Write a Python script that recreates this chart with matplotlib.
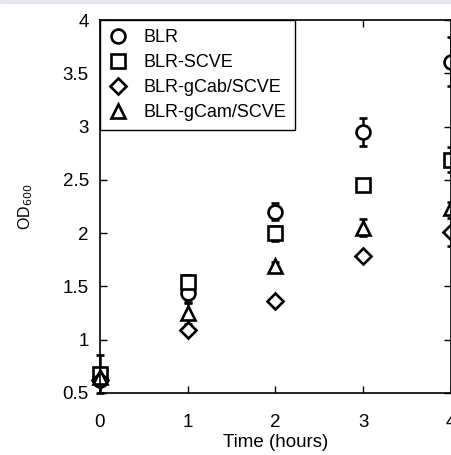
import matplotlib
matplotlib.use("Agg")
import matplotlib.pyplot as plt
from matplotlib.patches import Rectangle

plt.rcParams['font.family'] = ['Liberation Sans', 'DejaVu Sans']

time = [0, 1, 2, 3, 4]
labels = ['BLR', 'BLR-SCVE', 'BLR-gCab/SCVE', 'BLR-gCam/SCVE']
markers = ['o', 's', 'D', '^']
sizes = [10, 9.5, 8.5, 9.5]

blr = [0.62, 1.44, 2.20, 2.95, 3.61]
blr_err = [0.04, 0.10, 0.08, 0.13, 0.23]
scve = [0.68, 1.54, 2.00, 2.45, 2.69]
scve_err = [0.18, 0.07, 0.07, 0.05, 0.12]
gcab = [0.62, 1.09, 1.36, 1.79, 2.01]
gcab_err = [0.03, 0.03, 0.02, 0.02, 0.13]
gcam = [0.65, 1.25, 1.69, 2.05, 2.24]
gcam_err = [0.05, 0.10, 0.04, 0.08, 0.05]

series = [(blr, blr_err), (scve, scve_err), (gcab, gcab_err), (gcam, gcam_err)]

fig = plt.figure(figsize=(4.52, 4.55), dpi=100)
ax = fig.add_axes([0.2212, 0.1363, 0.7766, 0.8197])

for (vals, errs), lab, m, ms in zip(series, labels, markers, sizes):
    ax.errorbar(time, vals, yerr=errs, fmt=m, mfc='white', mec='black', ecolor='black',
                ms=ms, mew=1.9, elinewidth=1.8, capsize=3, capthick=1.8, label=lab,
                clip_on=False)

ax.set_xlim(0, 4)
ax.set_ylim(0.5, 4)
ax.set_xticks([0, 1, 2, 3, 4])
ax.set_yticks([0.5, 1, 1.5, 2, 2.5, 3, 3.5, 4])
ax.set_yticklabels(['0.5', '1', '1.5', '2', '2.5', '3', '3.5', '4'])
ax.tick_params(direction='in', top=True, right=True, labelsize=13.5, length=5, width=1)
ax.tick_params(axis='x', pad=15)
ax.tick_params(axis='y', pad=8)
for s in ax.spines.values():
    s.set_linewidth(1.2)

ax.set_xlabel('Time (hours)', fontsize=13.5, labelpad=2)
ax.set_ylabel('OD$_{600}$', fontsize=11.5, labelpad=20)

handles, labs = ax.get_legend_handles_labels()
handles = [h[0] for h in handles]
leg = ax.legend(handles, labs, loc='upper left', borderaxespad=0, fancybox=False,
                edgecolor='black', framealpha=1, fontsize=13, handlelength=1,
                handletextpad=0.9, labelspacing=0.45, borderpad=0.5)
leg.get_frame().set_linewidth(1.0)

fig.patches.append(Rectangle((0, 1 - 3 / 455), 1, 3 / 455, transform=fig.transFigure,
                             color='#e3e7ef', zorder=0))

fig.savefig('out.png', dpi=100)
